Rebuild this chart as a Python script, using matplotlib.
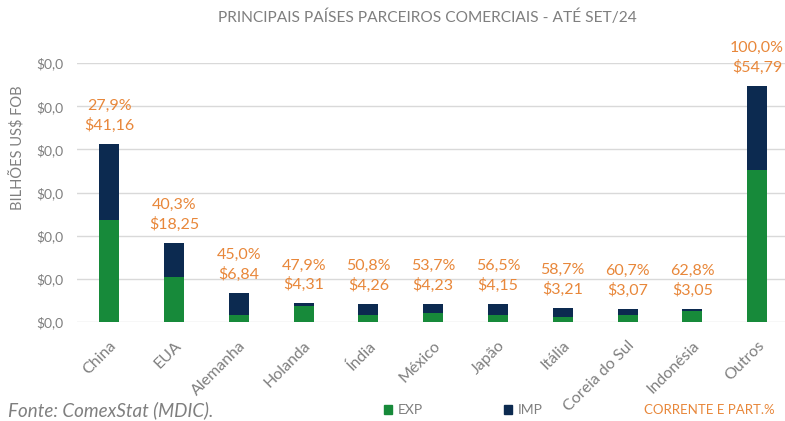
import matplotlib
matplotlib.use('Agg')
import matplotlib.pyplot as plt
from matplotlib.patches import Patch

plt.rcParams['font.family'] = ['Lato', 'DejaVu Sans']

# dados (bilhoes US$ FOB, ate set/24)
paises = ['China', 'EUA', 'Alemanha', 'Holanda', 'Índia', 'México', 'Japão',
          'Itália', 'Coreia do Sul', 'Indonésia', 'Outros']
totais = [41.16, 18.25, 6.84, 4.31, 4.26, 4.23, 4.15, 3.21, 3.07, 3.05, 54.79]
exp = [23.7, 10.4, 1.6, 3.7, 1.6, 2.2, 1.6, 1.2, 1.6, 2.6, 35.3]
imp = [17.46, 7.85, 5.24, 0.61, 2.66, 2.03, 2.55, 2.01, 1.47, 0.45, 19.49]
part = ['27,9%', '40,3%', '45,0%', '47,9%', '50,8%', '53,7%', '56,5%',
        '58,7%', '60,7%', '62,8%', '100,0%']
yticks = [0, 10, 20, 30, 40, 50, 60]
ytick_labels = ['$0,0'] * 7

verde = '#178A3A'
azul = '#0C2A50'
laranja = '#E8873A'
cinza = '#7F7F7F'

fig = plt.figure(figsize=(7.85, 4.21), dpi=100)
ax = fig.add_axes([0.098, 0.235, 0.902, 0.615])

x = range(len(paises))
ax.bar(x, exp, width=0.31, color=verde, zorder=3)
ax.bar(x, imp, bottom=exp, width=0.31, color=azul, zorder=3)

# rotulos de participacao e valor
for i, t in enumerate(totais):
    txt = part[i] + '\n$' + f'{t:.2f}'.replace('.', ',')
    ax.annotate(txt, xy=(i, t), xytext=(0, 8), textcoords='offset points',
                ha='center', va='bottom', color=laranja, fontsize=11.5,
                linespacing=1.4)

ax.set_ylim(0, 60)
ax.set_xlim(-0.5, 10.43)
ax.set_yticks(yticks)
ax.set_yticklabels(ytick_labels, color=cinza, fontsize=10)
ax.set_xticks(list(x))
ax.set_xticklabels(paises, rotation=45, ha='right', rotation_mode='anchor',
                   color=cinza, fontsize=11.5)
ax.tick_params(axis='both', length=0)
ax.tick_params(axis='y', pad=10)
ax.tick_params(axis='x', pad=12)
ax.grid(axis='y', color='#D9D9D9', linewidth=1, zorder=0)
for s in ax.spines.values():
    s.set_visible(False)

fig.text(427 / 785, 1 - 17 / 421, 'PRINCIPAIS PAÍSES PARCEIROS COMERCIAIS - ATÉ SET/24',
         ha='center', va='center', color=cinza, fontsize=11.2)
fig.text(18 / 785, 1 - 148 / 421, 'BILHÕES US$ FOB', rotation=90,
         ha='center', va='center', color=cinza, fontsize=10.5)

fig.text(8 / 785, 1 - 410 / 421, 'Fonte: ComexStat (MDIC).', style='italic',
         ha='left', va='center', color=cinza, fontsize=13.5)
fig.text(644 / 785, 1 - 410 / 421, 'CORRENTE E PART.%', ha='left', va='center',
         color=laranja, fontsize=9.5)

handles = [Patch(color=verde), Patch(color=azul)]
fig.legend(handles, ['EXP', 'IMP'], loc='center left',
           bbox_to_anchor=(384 / 785, 1 - 410 / 421), ncol=2, frameon=False,
           borderpad=0, borderaxespad=0,
           handlelength=0.6, handleheight=0.6, handletextpad=0.4,
           columnspacing=5.8, fontsize=10, labelcolor=cinza)

fig.savefig('out.png', dpi=100)
